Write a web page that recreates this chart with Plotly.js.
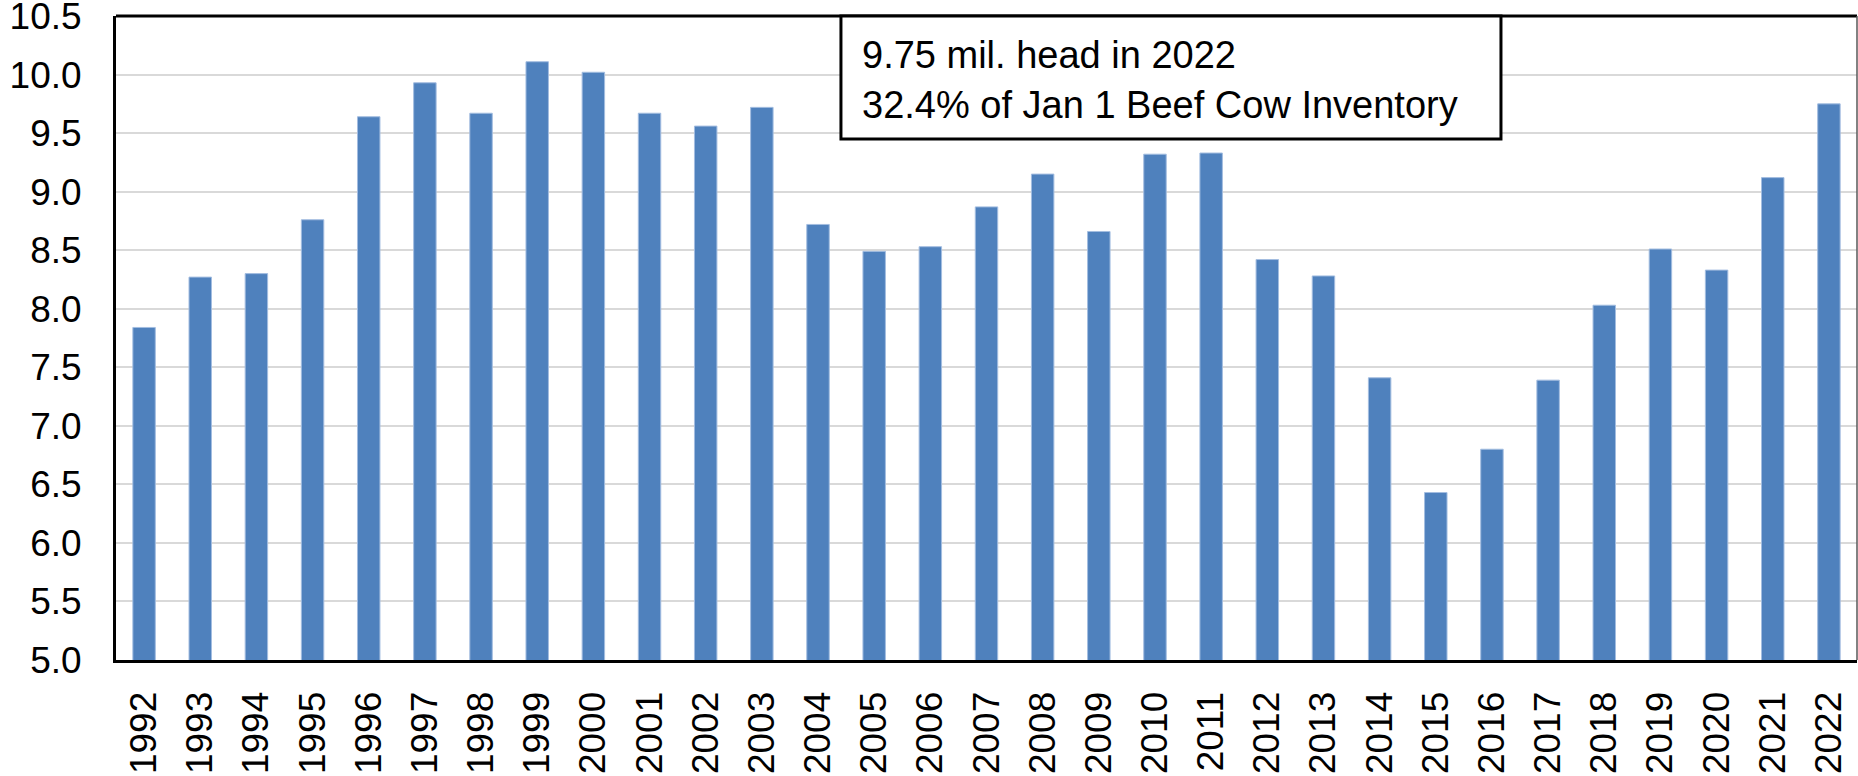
<!DOCTYPE html>
<html>
<head>
<meta charset="utf-8">
<script src="https://cdn.plot.ly/plotly-3.0.1.min.js"></script>
<style>html,body{margin:0;padding:0;background:#fff;}#chart{width:1858px;height:776px;}</style>
</head>
<body>
<div id="chart"></div>
<script>
const years = ["1992","1993","1994","1995","1996","1997","1998","1999","2000","2001","2002","2003","2004","2005","2006","2007","2008","2009","2010","2011","2012","2013","2014","2015","2016","2017","2018","2019","2020","2021","2022"];
const headMillions = [7.84,8.27,8.30,8.76,9.64,9.93,9.67,10.11,10.02,9.67,9.56,9.72,8.72,8.49,8.53,8.87,9.15,8.66,9.32,9.33,8.42,8.28,7.41,6.43,6.80,7.39,8.03,8.51,8.33,9.12,9.75];
const yTickVals = [5.0,5.5,6.0,6.5,7.0,7.5,8.0,8.5,9.0,9.5,10.0,10.5];
const noteLines = ["9.75 mil. head in 2022","32.4% of Jan 1 Beef Cow Inventory"];

const FONT = "Liberation Sans, Arial, sans-serif";

const trace = {
  type: "bar",
  x: years,
  y: headMillions,
  marker: {color: "#4f81bd", line: {color: "#a3bde0", width: 1}},
  hoverinfo: "x+y"
};

const layout = {
  width: 1858, height: 776,
  margin: {l: 116, r: 1, t: 16, b: 116, pad: 0},
  paper_bgcolor: "#ffffff",
  plot_bgcolor: "#ffffff",
  showlegend: false,
  bargap: 0.6,
  font: {family: FONT, color: "#000000", size: 37},
  xaxis: {
    type: "category",
    tickangle: -90,
    tickfont: {family: FONT, size: 37, color: "#000"},
    showline: true, linecolor: "#000", linewidth: 3,
    showgrid: false, zeroline: false,
    ticks: "", ticklabelstandoff: 14,
    ticklabeloverflow: "allow"
  },
  yaxis: {
    range: [4.9995, 10.5005],
    tickvals: yTickVals,
    ticktext: yTickVals.map(v => v.toFixed(1)),
    tickfont: {family: FONT, size: 37, color: "#000"},
    showline: true, linecolor: "#000", linewidth: 3,
    showgrid: true, gridcolor: "#d9d9d9", gridwidth: 2,
    zeroline: false, ticks: "", ticklabelstandoff: 24,
    ticklabeloverflow: "allow"
  },
  shapes: [
    {type: "line", xref: "paper", yref: "paper", x0: 0, x1: 1, y0: 1, y1: 1, line: {color: "#000", width: 3}},
    {type: "line", xref: "paper", yref: "paper", x0: 1, x1: 1, y0: 0, y1: 1, line: {color: "#595959", width: 1.5}},
    {type: "rect", xref: "paper", yref: "paper", x0: 0.4164, x1: 0.7955, y0: 0.809, y1: 1, line: {color: "#000", width: 3}, fillcolor: "#ffffff", layer: "above"}
  ],
  annotations: [
    {xref: "paper", yref: "paper", x: 0.4273, y: 0.9394, xanchor: "left", yanchor: "middle", text: noteLines[0], showarrow: false, align: "left", font: {family: FONT, size: 38, color: "#000"}},
    {xref: "paper", yref: "paper", x: 0.4273, y: 0.862, xanchor: "left", yanchor: "middle", text: noteLines[1], showarrow: false, align: "left", font: {family: FONT, size: 38, color: "#000"}}
  ]
};

Plotly.newPlot("chart", [trace], layout, {displayModeBar: false, staticPlot: true});
</script>
</body>
</html>
